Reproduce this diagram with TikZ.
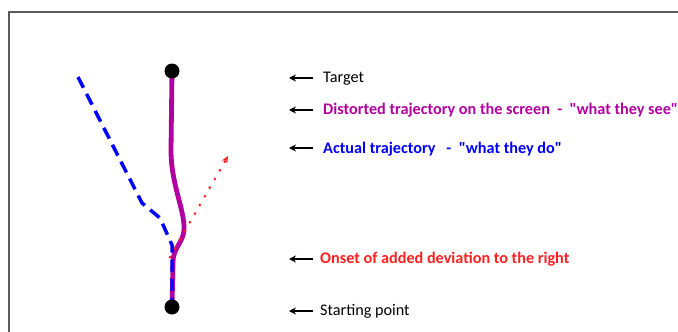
\documentclass[tikz,border=0pt]{standalone}
\usepackage{fontspec}
\setmainfont{Carlito}[Ligatures=TeXOff]
\usetikzlibrary{arrows.meta}
\definecolor{seecol}{RGB}{178,0,160}
\definecolor{docol}{RGB}{0,0,255}
\definecolor{devcol}{RGB}{255,32,32}
\definecolor{framecol}{RGB}{90,90,90}
\pgfdeclarelayer{traces}
\pgfsetlayers{traces,main}
\begin{document}
\begin{tikzpicture}[x=1pt,y=-1pt,
  endpoint/.style={circle,fill=black,inner sep=0pt,minimum size=15pt},
  lbl/.style={anchor=mid west,inner sep=0pt,font=\fontsize{16.2}{19}\selectfont},
  lblbold/.style={lbl,font=\fontsize{16.2}{19}\selectfont\bfseries},
  pointer/.style={draw=black,line width=2.2pt,-{Stealth[length=7pt,width=7pt]}},
  seen/.style={draw=seecol,line width=4.8pt,line cap=round},
  done/.style={draw=docol,line width=3.5pt,dash pattern=on 12pt off 7pt,line join=round},
  deviation/.style={draw=devcol,line width=3pt,line cap=round,dash pattern=on 0pt off 10pt,
    -{Stealth[length=7pt,width=6pt,line cap=butt]}}]
\useasboundingbox (0,0) rectangle (678,332);
% frame
\draw[framecol,line width=1.6pt] (9,332) -- (9,12) -- (678,12);

% end points
\node[endpoint] (target) at (172,71) {};
\node[endpoint] (start) at (172,307) {};

\begin{pgfonlayer}{traces}
% distorted trajectory shown on screen
\draw[seen] (target.center) -- (171,150) .. controls (171,185) and (185,210) .. (184,230)
  .. controls (183,243) and (173,248) .. (173,262) -- (start.center);

% actual trajectory (dashed)
\coordinate (dstart) at (78,77);
\draw[done] (dstart) -- (142,203) -- (160,218) -- (172,245) -- (start.center);

% added deviation
\coordinate (onset) at (170,257);
\coordinate (devtip) at (228,156);
\draw[deviation] (onset) -- (devtip);
\end{pgfonlayer}

% labels
\node[lbl] (ltarget) at (323,80) {Target};
\node[lblbold,text=seecol] (lsee) at (323,112) {Distorted trajectory on the screen\ \ -\ \ "what they see"};
\node[lblbold,text=docol] (ldo) at (323,151) {Actual trajectory\ \ \ -\ \ "what they do"};
\node[lblbold,text=devcol] (lonset) at (320,261) {Onset of added deviation to the right};
\node[lbl] (lstart) at (320,313) {Starting point};

% pointers
\foreach \n/\y in {ltarget/78,lsee/110,ldo/148,lonset/259,lstart/311}{
  \coordinate (\n-a) at (313,\y);
  \coordinate (\n-b) at (289,\y);
  \draw[pointer] (\n-a) -- (\n-b);
}
\end{tikzpicture}
\end{document}
